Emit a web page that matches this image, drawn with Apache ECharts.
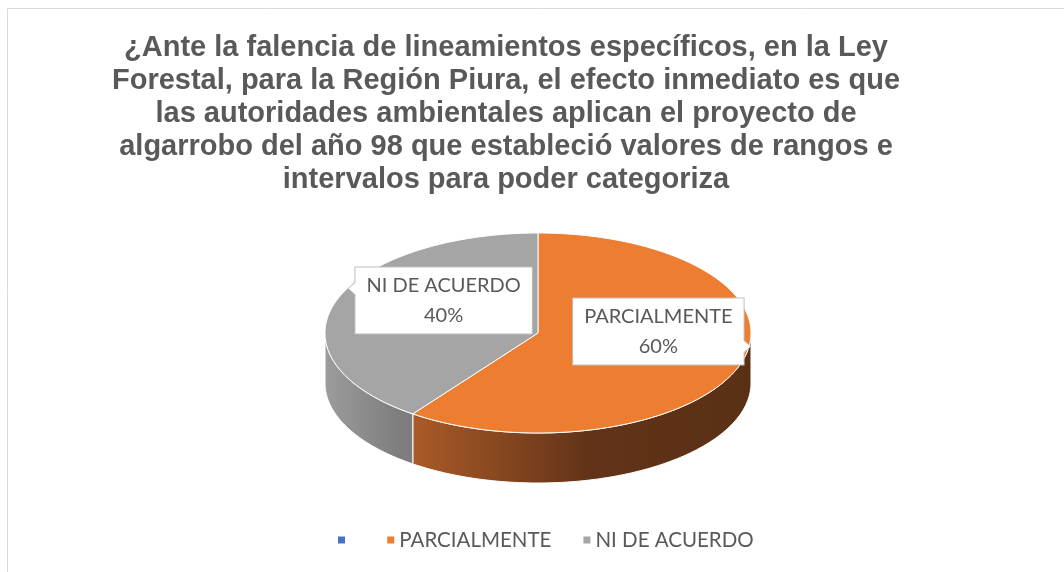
<!DOCTYPE html>
<html>
<head>
<meta charset="utf-8">
<script src="https://cdn.jsdelivr.net/npm/echarts@6/dist/echarts.min.js"></script>
<style>
html, body { margin: 0; padding: 0; background: #fff; }
#pie3d { width: 1064px; height: 572px; }
</style>
</head>
<body>
<div id="pie3d"></div>
<script>
// valores
var categories = [' ', 'PARCIALMENTE', 'NI DE ACUERDO'];
var values = [0, 60, 40];
var colors = ['#4472C4', '#ED7D31', '#A5A5A5'];
var titleLines = [
  '¿Ante la falencia de lineamientos específicos, en la Ley',
  'Forestal, para la Región Piura, el efecto inmediato es que',
  'las autoridades ambientales aplican el proyecto de',
  'algarrobo del año 98 que estableció valores de rangos e',
  'intervalos para poder categoriza'
];

// geometria del pastel "3D"
var cx = 538, cy = 333, rx = 213, ry = 100, depth = 50;
var labelFont = '20px Lato';
var textColor = '#595959';

var total = values.reduce(function (a, b) { return a + b; }, 0);
var starts = [];
var acc = 0;
values.forEach(function (v) {
  starts.push(acc / total * 360);
  acc += v;
});

function pt(deg, dy) {
  var r = deg * Math.PI / 180;
  return [cx + rx * Math.sin(r), cy - ry * Math.cos(r) + (dy || 0)];
}

function arc(a, b, dy) {
  var pts = [];
  var n = Math.max(2, Math.ceil(Math.abs(b - a)));
  for (var i = 0; i <= n; i++) {
    pts.push(pt(a + (b - a) * i / n, dy));
  }
  return pts;
}

var sideFill = {
  1: new echarts.graphic.LinearGradient(cx - rx, 0, cx + rx, 0, [
    {offset: 0, color: '#c46c2f'},
    {offset: 0.17, color: '#b05e28'},
    {offset: 0.62, color: '#623318'},
    {offset: 1, color: '#5a3014'}
  ], true),
  2: new echarts.graphic.LinearGradient(cx - rx, 0, cx + rx, 0, [
    {offset: 0, color: '#9c9c9c'},
    {offset: 0.17, color: '#7e7e7e'},
    {offset: 1, color: '#707070'}
  ], true)
};

var measureCtx = document.createElement('canvas').getContext('2d');
measureCtx.font = labelFont;

function renderSlice(params, api) {
  var i = params.dataIndex;
  var v = values[i];
  if (!v) return null;
  var a1 = starts[i];
  var a2 = a1 + v / total * 360;
  var children = [];

  // pared lateral (solo la mitad frontal)
  var w1 = Math.max(a1, 90), w2 = Math.min(a2, 270);
  if (w2 > w1) {
    var wall = arc(w1, w2, 0).concat(arc(w2, w1, depth));
    children.push({
      type: 'polygon',
      shape: {points: wall},
      style: {fill: sideFill[i] || colors[i], stroke: '#ffffff', lineWidth: 1}
    });
  }

  // cara superior
  var top = [[cx, cy]].concat(arc(a1, a2, 0));
  children.push({
    type: 'polygon',
    shape: {points: top},
    style: {fill: colors[i], stroke: '#ffffff', lineWidth: 1}
  });

  // etiqueta
  var mid = (a1 + a2) / 2;
  var mr = mid * Math.PI / 180;
  var lx = cx + 13 + Math.sin(mr) * rx * 0.53;
  var ly = cy - 17 - Math.cos(mr) * ry * 0.5;
  var pct = Math.round(v / total * 100) + '%';
  var name = categories[i];
  var tw = Math.max(measureCtx.measureText(name).width, measureCtx.measureText(pct).width);
  var halfW = tw / 2 + 11;
  children.push({
    type: 'text',
    style: {
      text: name + '\n' + pct,
      x: lx, y: ly,
      align: 'center', verticalAlign: 'middle',
      font: labelFont, fill: textColor, lineHeight: 30,
      backgroundColor: '#ffffff', borderColor: '#bfbfbf', borderWidth: 1,
      padding: [3, 11]
    }
  });

  // punta del recuadro, hacia el borde del pastel
  var side = Math.sin(mr) < 0 ? -1 : 1;
  var py = ly + (Math.cos(mr) > 0 ? -12 : 15);
  var ex = lx + side * halfW;
  children.push({
    type: 'polygon',
    shape: {points: [[ex - side * 1.5, py - 7], [ex + side * 7, py], [ex - side * 1.5, py + 7]]},
    style: {fill: '#ffffff'}
  });
  children.push({
    type: 'polyline',
    shape: {points: [[ex, py - 7], [ex + side * 7, py], [ex, py + 7]]},
    style: {stroke: '#bfbfbf', lineWidth: 1, fill: null}
  });

  return {type: 'group', children: children};
}

var chart = echarts.init(document.getElementById('pie3d'));

chart.setOption({
  animation: false,
  graphic: [{
    type: 'rect',
    shape: {x: 7.5, y: 8.5, width: 1100, height: 600},
    style: {fill: null, stroke: '#d9d9d9', lineWidth: 1},
    silent: true
  }],
  title: {
    text: titleLines.join('\n'),
    left: 506,
    top: 31,
    padding: 0,
    textAlign: 'center',
    textStyle: {
      fontFamily: 'Liberation Sans',
      fontWeight: 'bold',
      fontSize: 29,
      lineHeight: 33,
      color: textColor
    }
  },
  legend: {
    data: categories,
    left: 338,
    top: 528,
    padding: 0,
    icon: 'rect',
    itemWidth: 7,
    itemHeight: 7,
    itemGap: 32,
    textStyle: {fontFamily: 'Lato', fontSize: 20.5, color: textColor, lineHeight: 24}
  },
  series: [
    {
      // solo para la leyenda
      type: 'pie',
      radius: [0, 0],
      silent: true,
      label: {show: false},
      labelLine: {show: false},
      data: categories.map(function (n, i) {
        return {name: n, value: values[i], itemStyle: {color: colors[i]}};
      })
    },
    {
      type: 'custom',
      coordinateSystem: 'none',
      renderItem: renderSlice,
      data: values.map(function (v, i) { return {name: categories[i], value: v}; })
    }
  ]
});
</script>
</body>
</html>
